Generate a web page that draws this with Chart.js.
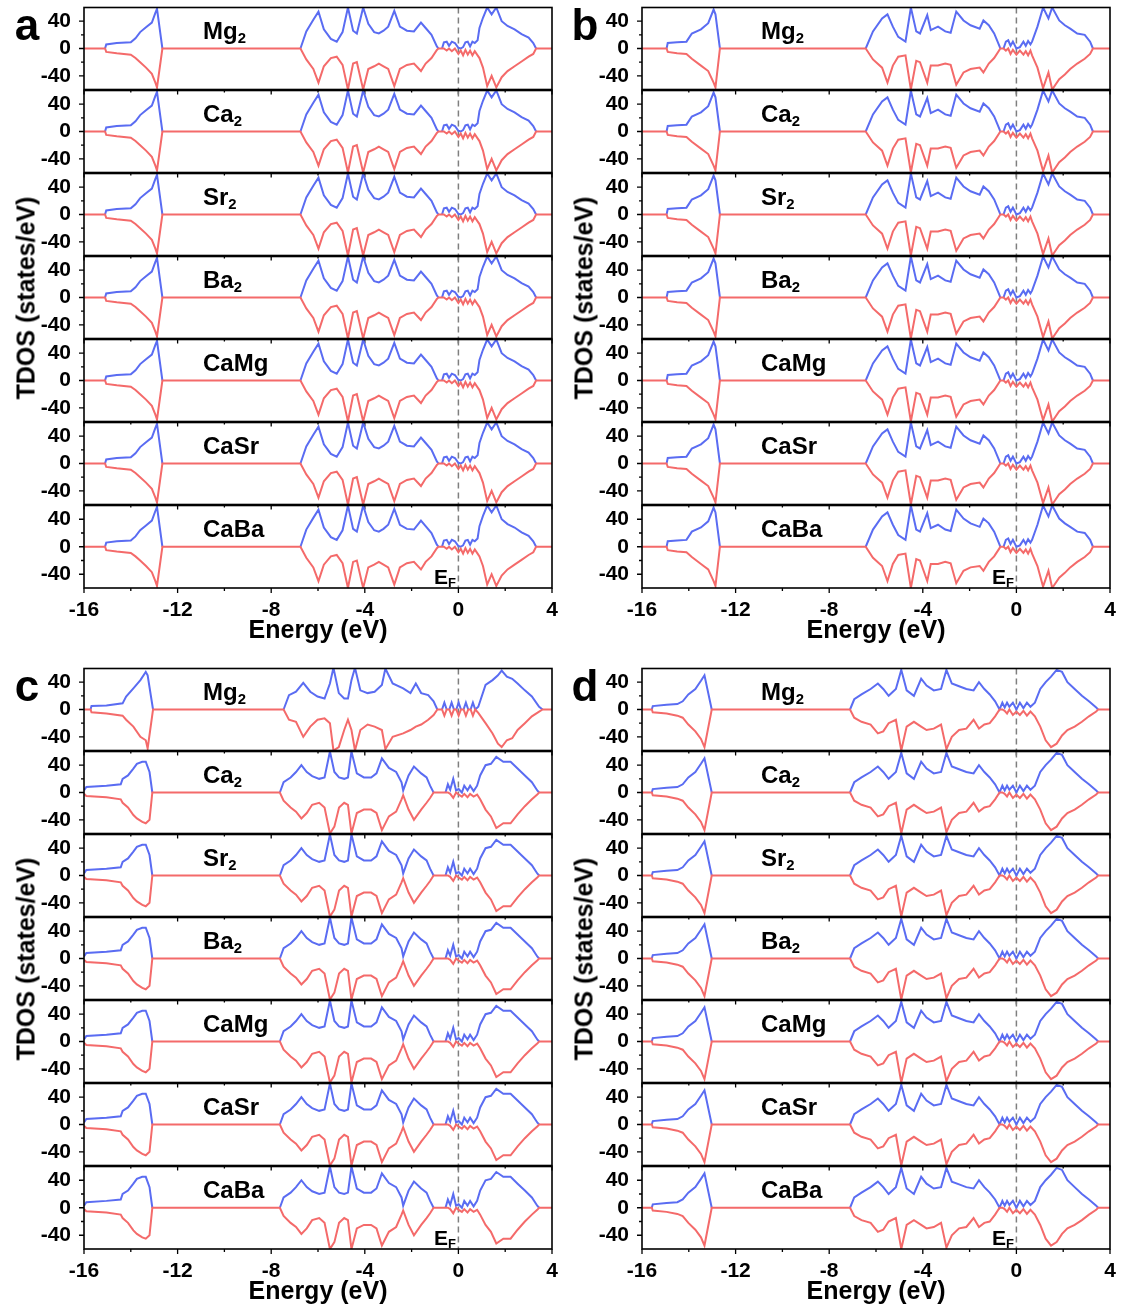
<!DOCTYPE html>
<html>
<head>
<meta charset="utf-8">
<title>TDOS</title>
<script src="https://cdn.jsdelivr.net/npm/chart.js@4.4.1/dist/chart.umd.min.js"></script>
<style>
  html, body { margin: 0; padding: 0; background: #fff; }
  #page { position: relative; width: 1126px; height: 1315px; overflow: hidden;
          font-family: "Liberation Sans", Arial, sans-serif; font-weight: bold; color: #000; }
  #page canvas { position: absolute; }
  .lbl { position: absolute; white-space: nowrap; line-height: 1; transform: translateY(-50%); }
  .panel-tag { font-size: 44px; transform: translate(-50%, -50%); }
  .ytitle { font-size: 25px; transform: translate(-50%, -50%) rotate(-90deg); }
  .name { font-size: 24px; }
  .ef { font-size: 21px; }
  sub { font-size: 0.62em; vertical-align: -0.3em; line-height: 0; }
</style>
</head>
<body>
<div id="page"></div>
<script>
const materials = ["Mg", "Ca", "Sr", "Ba", "CaMg", "CaSr", "CaBa"];
const materialSubs = ["2", "2", "2", "2", "", "", ""];
const xTickLabels = [-16, -12, -8, -4, 0, 4];
const xMinorTicks = [-14, -10, -6, -2, 2];
const yTickLabels = [-40, 0, 40];
const yMinorTicks = [-20, 20];

// panel a (read from Mg2, shared by the other rows)
const energyA = [-16, -15.1, -15.05, -14.6, -14.0, -13.8, -13.6, -13.35, -13.1, -12.95,
  -12.88, -12.65, -6.75, -6.5, -6.2, -5.98, -5.75, -5.45, -5.2, -4.95,
  -4.72, -4.5, -4.34, -4.07, -3.85, -3.6, -3.4, -3.2, -3.0, -2.74,
  -2.5, -2.2, -1.9, -1.6, -1.4, -1.15, -0.92, -0.85, -0.7, -0.62,
  -0.5, -0.4, -0.28, -0.15, 0.0, 0.1, 0.2, 0.3, 0.4, 0.5,
  0.6, 0.7, 0.82, 0.9, 1.05, 1.23, 1.42, 1.62, 1.85, 2.1,
  2.4, 2.7, 3.0, 3.2, 3.32, 4];
const upA = [0, 0, 6, 8, 9, 15, 24, 31, 38, 52,
  58, 0, 0, 25, 42, 54, 28, 14, 10, 24,
  60, 26, 22, 60, 36, 24, 22, 26, 32, 55,
  32, 26, 25, 38, 30, 20, 3, 0, 0, 9,
  10, 4, 10, 8, 1, 0, 2, 9, 10, 3,
  10, 8, 12, 30, 45, 60, 50, 60, 40, 33,
  28, 21, 16, 8, 0, 0];
const downA = [0, 0, -5, -7, -9, -14, -20, -28, -37, -50,
  -57, 0, 0, -16, -30, -50, -26, -14, -12, -24,
  -60, -22, -20, -60, -30, -26, -22, -26, -30, -55,
  -30, -24, -22, -33, -22, -14, -2, 0, 0, 0,
  -3, 0, -4, 0, -8, -3, -10, -2, -9, -3,
  -10, -4, -10, -14, -28, -55, -40, -57, -42, -33,
  -26, -19, -12, -8, 0, 0];

// panel b
const energyB = [-16, -14.95, -14.9, -14.5, -14.1, -13.87, -13.48, -13.17, -12.94, -12.86,
  -12.67, -6.44, -6.13, -5.74, -5.51, -5.28, -5.05, -4.74, -4.51, -4.28,
  -4.12, -3.81, -3.66, -3.35, -3.04, -2.81, -2.57, -2.26, -1.96, -1.57,
  -1.41, -1.18, -0.95, -0.72, -0.69, -0.55, -0.45, -0.35, -0.25, -0.15,
  0.0, 0.15, 0.3, 0.4, 0.5, 0.6, 0.67, 0.9, 1.14, 1.37,
  1.53, 1.83, 2.07, 2.3, 2.6, 2.92, 3.15, 3.27, 4];
const upB = [0, 0, 8, 9, 10, 22, 28, 37, 57, 50,
  0, 0, 25, 44, 50, 32, 17, 10, 60, 25,
  22, 49, 27, 32, 25, 23, 54, 41, 34, 29,
  41, 34, 22, 3, 0, 0, 10, 12, 4, 10,
  0, 2, 10, 4, 11, 6, 10, 32, 60, 44,
  60, 41, 34, 29, 22, 20, 10, 0, 0];
const downB = [0, 0, -5, -7, -8, -15, -25, -33, -50, -57,
  0, 0, -16, -28, -50, -25, -12, -10, -60, -18,
  -20, -50, -25, -25, -22, -24, -53, -35, -30, -28,
  -35, -22, -14, -2, 0, 0, -3, 0, -8, -2,
  -9, -3, -9, -4, -10, -3, -10, -28, -58, -35,
  -60, -45, -38, -30, -22, -15, -8, 0, 0];

// panel c, Mg2 row
const energyCMg = [-16, -15.72, -15.68, -15.04, -14.35, -14.2, -13.89, -13.59, -13.36, -13.28,
  -13.05, -7.47, -7.24, -6.94, -6.63, -6.33, -6.02, -5.72, -5.49, -5.34,
  -5.11, -4.88, -4.72, -4.57, -4.42, -4.19, -3.88, -3.58, -3.27, -3.12,
  -2.81, -2.36, -2.05, -1.82, -1.59, -1.29, -1.06, -0.9, -0.7, -0.6,
  -0.5, -0.39, -0.29, -0.19, -0.09, 0.01, 0.11, 0.22, 0.32, 0.42,
  0.52, 0.62, 0.72, 0.85, 1.16, 1.46, 1.69, 1.85, 2.07, 2.3,
  2.53, 2.84, 3.14, 3.45, 3.6, 4];
const upCMg = [0, 0, 5, 6, 9, 19, 31, 43, 55, 50,
  0, 0, 21, 26, 39, 26, 19, 16, 38, 61,
  24, 16, 16, 43, 61, 28, 24, 26, 36, 60,
  38, 31, 24, 38, 24, 21, 12, 0, 0, 10,
  0, 0, 10, 0, 0, 10, 0, 0, 10, 0,
  0, 10, 0, 4, 36, 43, 50, 57, 48, 45,
  38, 28, 19, 4, 0, 0];
const downCMg = [0, 0, -4, -6, -9, -15, -25, -40, -45, -57,
  0, 0, -15, -18, -40, -25, -15, -13, -20, -60,
  -55, -30, -15, -30, -60, -30, -22, -25, -30, -58,
  -40, -35, -30, -25, -22, -15, -8, 0, 0, -9,
  0, 0, -9, 0, 0, -9, 0, 0, -9, 0,
  0, -9, 0, -5, -20, -35, -50, -55, -45, -42,
  -30, -20, -10, -3, 0, 0];

// panel c, other rows (read from CaBa)
const energyC = [-16, -15.9, -15.04, -14.43, -14.35, -14.12, -13.89, -13.74, -13.51, -13.36,
  -13.2, -13.08, -7.63, -7.47, -7.17, -6.94, -6.71, -6.48, -6.25, -5.95,
  -5.72, -5.49, -5.3, -5.1, -4.88, -4.72, -4.57, -4.34, -4.04, -3.73,
  -3.5, -3.27, -2.97, -2.66, -2.43, -2.36, -2.13, -1.9, -1.59, -1.36,
  -1.21, -1.06, -0.55, -0.45, -0.35, -0.22, -0.1, 0.01, 0.15, 0.25,
  0.39, 0.5, 0.65, 0.8, 0.93, 1.16, 1.39, 1.62, 1.92, 2.23,
  2.53, 2.84, 3.14, 3.37, 3.45, 4];
const upC = [3, 8, 10, 12, 20, 25, 35, 42, 45, 45,
  30, 0, 0, 15, 22, 30, 40, 30, 24, 20,
  22, 60, 30, 22, 20, 22, 60, 28, 22, 22,
  28, 50, 36, 30, 15, 3, 25, 38, 28, 22,
  10, 0, 0, 12, 4, 20, 3, 5, 0, 10,
  3, 10, 2, 10, 25, 40, 42, 52, 45, 45,
  35, 25, 15, 3, 0, 0];
const downC = [-2, -5, -7, -10, -15, -22, -33, -38, -43, -45,
  -40, 0, 0, -12, -22, -28, -38, -30, -18, -15,
  -22, -60, -50, -22, -15, -18, -60, -30, -25, -25,
  -30, -55, -35, -28, -10, -4, -25, -40, -25, -15,
  -8, 0, 0, 0, -2, -8, 0, -3, -6, -2,
  -7, -2, -6, -3, -10, -25, -35, -52, -45, -45,
  -32, -20, -10, -3, 0, 0];

// panel d
const energyD = [-16, -15.58, -15.54, -14.95, -14.49, -14.26, -14.02, -13.72, -13.48, -13.33,
  -13.02, -7.11, -6.93, -6.62, -6.23, -5.92, -5.69, -5.46, -5.15, -4.92,
  -4.69, -4.38, -4.07, -3.84, -3.53, -3.22, -2.99, -2.76, -2.45, -2.14,
  -1.83, -1.6, -1.37, -1.14, -0.91, -0.72, -0.6, -0.5, -0.4, -0.3,
  -0.15, 0.0, 0.15, 0.3, 0.45, 0.6, 0.79, 1.02, 1.25, 1.48,
  1.72, 1.95, 2.18, 2.49, 2.8, 3.1, 3.41, 3.49, 4];
const upD = [0, 0, 5, 7, 8, 12, 22, 30, 42, 50,
  0, 0, 15, 22, 30, 38, 30, 20, 30, 58,
  28, 20, 45, 35, 28, 30, 58, 38, 34, 30,
  28, 40, 30, 22, 12, 0, 10, 3, 10, 4,
  10, 0, 10, 2, 10, 4, 10, 30, 40, 48,
  58, 55, 40, 30, 20, 12, 3, 0, 0];
const downD = [0, 0, -4, -6, -9, -12, -22, -32, -43, -55,
  0, 0, -12, -18, -22, -35, -32, -20, -15, -60,
  -25, -18, -25, -30, -28, -22, -58, -40, -30, -28,
  -15, -28, -22, -20, -10, 0, 0, -2, -6, 0,
  -8, -3, -8, -2, -9, -3, -10, -25, -45, -55,
  -50, -38, -30, -25, -18, -10, -3, 0, 0];

const BLUE = "#5a6cf2";
const RED = "#f46a6a";
const GRAY = "#7f7f7f";
const FONT = "'Liberation Sans', Arial, sans-serif";

const SUB_H = 83;
const PLOT_W = 468;
const AXIS_W = 60;
const PAD = 14;
const PAD_R = 14;
const XAXIS_H = 60;

const setA = { energy: energyA, up: upA, down: downA };
const setB = { energy: energyB, up: upB, down: downB };
const setCMg = { energy: energyCMg, up: upCMg, down: downCMg };
const setC = { energy: energyC, up: upC, down: downC };
const setD = { energy: energyD, up: upD, down: downD };

const panels = [
  { tag: "a", left: 84, top: 7, sets: [setA, setA, setA, setA, setA, setA, setA] },
  { tag: "b", left: 642, top: 7, sets: [setB, setB, setB, setB, setB, setB, setB] },
  { tag: "c", left: 84, top: 668, sets: [setCMg, setC, setC, setC, setC, setC, setC] },
  { tag: "d", left: 642, top: 668, sets: [setD, setD, setD, setD, setD, setD, setD] },
];

const page = document.getElementById("page");

function toPoints(energy, values) {
  return energy.map((e, i) => ({ x: e, y: values[i] }));
}

function addText(cls, html, left, top) {
  const el = document.createElement("div");
  el.className = "lbl " + cls;
  el.innerHTML = html;
  el.style.left = left + "px";
  el.style.top = top + "px";
  page.appendChild(el);
}

// the red baseline sits on top, so flat zero runs of the blue curve are not stroked
const hideFlatZero = (ctx) =>
  (ctx.p0.parsed.y === 0 && ctx.p1.parsed.y === 0 ? "rgba(0,0,0,0)" : undefined);

const framePlugin = {
  id: "frame",
  beforeDatasetsDraw(chart) {
    const { ctx, chartArea: a, scales: { x } } = chart;
    const x0 = x.getPixelForValue(0);
    ctx.save();
    ctx.strokeStyle = GRAY;
    ctx.lineWidth = 1.5;
    ctx.setLineDash([6, 4]);
    ctx.beginPath();
    ctx.moveTo(x0, a.top);
    ctx.lineTo(x0, a.bottom);
    ctx.stroke();
    ctx.restore();
  },
  afterDatasetsDraw(chart) {
    const { ctx, chartArea: a, scales: { x, y } } = chart;
    ctx.save();
    ctx.strokeStyle = "#000";
    ctx.lineWidth = 1.3;
    ctx.beginPath();
    for (const v of xTickLabels) {
      const p = x.getPixelForValue(v);
      ctx.moveTo(p, a.bottom); ctx.lineTo(p, a.bottom + 5);
    }
    for (const v of xMinorTicks) {
      const p = x.getPixelForValue(v);
      ctx.moveTo(p, a.bottom); ctx.lineTo(p, a.bottom + 3);
    }
    for (const v of yTickLabels) {
      const p = y.getPixelForValue(v);
      ctx.moveTo(a.left, p); ctx.lineTo(a.left - 5, p);
    }
    for (const v of yMinorTicks) {
      const p = y.getPixelForValue(v);
      ctx.moveTo(a.left, p); ctx.lineTo(a.left - 3, p);
    }
    ctx.stroke();
    ctx.lineWidth = 1.6;
    ctx.strokeRect(a.left, a.top, a.width, a.height);
    ctx.restore();
  },
};

const hiddenTicks = { display: true, drawOnChartArea: false, drawTicks: true, color: "rgba(0,0,0,0)", tickColor: "rgba(0,0,0,0)" };

for (const panel of panels) {
  panel.sets.forEach((set, i) => {
    const last = i === panel.sets.length - 1;
    const canvas = document.createElement("canvas");
    const w = AXIS_W + PLOT_W + PAD_R;
    const h = last ? PAD + SUB_H + XAXIS_H : SUB_H + 2 * PAD;
    canvas.width = w;
    canvas.height = h;
    canvas.style.width = w + "px";
    canvas.style.height = h + "px";
    canvas.style.left = (panel.left - AXIS_W) + "px";
    canvas.style.top = (panel.top + i * SUB_H - PAD) + "px";
    page.appendChild(canvas);

    const xScale = {
      type: "linear",
      min: -16,
      max: 4,
      display: last,
      grid: { display: false },
      border: { display: false },
      ticks: {
        stepSize: 2,
        autoSkip: false,
        maxRotation: 0,
        padding: 3,
        color: "#000",
        font: { family: FONT, size: 21, weight: "bold", lineHeight: 1.1 },
        callback: (v) => {
          const r = Math.round(v);
          return Math.abs(v - r) < 1e-6 && xTickLabels.includes(r) ? String(r) : "";
        },
      },
      title: {
        display: last,
        text: "Energy (eV)",
        color: "#000",
        font: { family: FONT, size: 25, weight: "bold", lineHeight: 1.1 },
        padding: { top: 0, bottom: 3 },
      },
    };
    if (last) xScale.afterFit = (scale) => { scale.height = XAXIS_H; };

    new Chart(canvas, {
      type: "line",
      data: {
        datasets: [
          { data: toPoints(set.energy, set.down), borderColor: RED, borderWidth: 2, pointRadius: 0, tension: 0 },
          { data: toPoints(set.energy, set.up), borderColor: BLUE, borderWidth: 2, pointRadius: 0, tension: 0,
            segment: { borderColor: hideFlatZero } },
        ],
      },
      options: {
        responsive: false,
        animation: false,
        events: [],
        layout: { padding: { top: PAD, right: PAD_R, bottom: last ? 0 : PAD, left: 0 } },
        plugins: { legend: { display: false }, tooltip: { enabled: false } },
        scales: {
          x: xScale,
          y: {
            min: -60,
            max: 60,
            grid: Object.assign({ tickLength: 9 }, hiddenTicks),
            border: { display: false },
            ticks: {
              stepSize: 20,
              autoSkip: false,
              padding: 4,
              color: "#000",
              font: { family: FONT, size: 21, weight: "bold", lineHeight: 1 },
              callback: (v) => (yTickLabels.includes(v) ? String(v) : ""),
            },
            afterFit: (scale) => { scale.width = AXIS_W; },
          },
        },
      },
      plugins: [framePlugin],
    });

    const sub = materialSubs[i] ? "<sub>" + materialSubs[i] + "</sub>" : "";
    addText("name", materials[i] + sub, panel.left + 119, panel.top + i * SUB_H + 24);
  });

  const bottom = panel.top + 7 * SUB_H;
  addText("ef", "E<sub>F</sub>", panel.left + 350, bottom - 12);
  addText("panel-tag", panel.tag, panel.left - 57, panel.top + 18);
  addText("ytitle", "TDOS (states/eV)", panel.left - 58, panel.top + 7 * SUB_H / 2);
}
</script>
</body>
</html>
